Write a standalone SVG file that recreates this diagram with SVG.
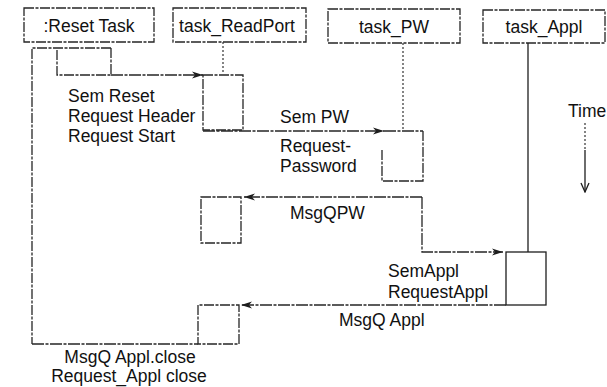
<svg xmlns="http://www.w3.org/2000/svg" width="607" height="387" viewBox="0 0 607 387">
<style>
text{font-family:"Liberation Sans",Arial,sans-serif;font-size:17.5px;fill:#111}
.c{text-anchor:middle}
.hd{fill:#fff;stroke:#262626;stroke-width:1.3;stroke-dasharray:10 1.5 3 1.5}
.box{fill:none;stroke:#262626;stroke-width:1.3;stroke-dasharray:10 1.5 3 1.5}
.sol{fill:none;stroke:#1e1e1e;stroke-width:1.3}
.dot{fill:none;stroke:#333;stroke-width:1.2;stroke-dasharray:2 2}
.ln{fill:none;stroke:#262626;stroke-width:1.3;stroke-dasharray:12 1.5 3 1.5}
</style>
<defs>
<marker id="ah" markerWidth="12" markerHeight="8" refX="11" refY="4" orient="auto" markerUnits="userSpaceOnUse">
<path d="M0,0.5 L11,4 L0,7.5 L3,4 Z" fill="#1e1e1e"/>
</marker>
<marker id="tv" markerWidth="10" markerHeight="12" refX="5" refY="11" orient="0" markerUnits="userSpaceOnUse">
<path d="M1,2 L5,11 L9,2" fill="none" stroke="#1e1e1e" stroke-width="1.3"/>
</marker>
</defs>

<g id="reset-task">
<rect class="hd" x="24" y="8" width="130" height="34"/>
<text class="c" x="89" y="32">:Reset Task</text>
<path class="box" d="M111,48 H32 V344"/>
<path class="box" d="M57,50 V75 H111 V48"/>
</g>

<g id="task-readport">
<rect class="hd" x="173" y="8" width="133" height="34"/>
<text class="c" x="237" y="32">task_ReadPort</text>
<line class="dot" x1="223" y1="42" x2="223" y2="72"/>
<rect class="box" x="203" y="75" width="40" height="55"/>
<rect class="box" x="201" y="197" width="40" height="46"/>
<path class="box" d="M198,305 V344 H239 V305 H198"/>
</g>

<g id="task-pw">
<rect class="hd" x="328" y="9" width="132" height="34"/>
<text class="c" x="394" y="33">task_PW</text>
<line class="dot" x1="403" y1="43" x2="403" y2="131"/>
<path class="box" d="M382,150 V181 H423 V131"/>
</g>

<g id="task-appl">
<rect class="hd" x="483" y="10" width="122" height="33"/>
<text class="c" x="544" y="33">task_Appl</text>
<line class="sol" x1="528" y1="43" x2="528" y2="252"/>
<rect class="sol" x="506" y="252" width="40" height="53"/>
</g>

<g id="time">
<text x="568" y="117">Time</text>
<line class="dot" x1="585" y1="123" x2="585" y2="150"/>
<line class="sol" x1="585" y1="150" x2="585" y2="192" marker-end="url(#tv)"/>
</g>

<g id="connectors">
<line class="ln" x1="111" y1="75" x2="203" y2="75" marker-end="url(#ah)"/>
<line class="ln" x1="203" y1="131" x2="384" y2="131" marker-end="url(#ah)"/>
<line class="ln" x1="384" y1="131" x2="423" y2="131"/>
<path class="ln" d="M422,197 H244" marker-end="url(#ah)"/>
<path class="ln" d="M422,197 V252 H503" marker-end="url(#ah)"/>
<line class="ln" x1="506" y1="305" x2="241" y2="305" marker-end="url(#ah)"/>
<line class="ln" x1="32" y1="344" x2="198" y2="344"/>
</g>

<g id="labels">
<text x="68" y="102">Sem Reset</text>
<text x="68" y="122">Request Header</text>
<text x="68" y="142">Request Start</text>
<text x="280" y="123">Sem PW</text>
<text x="280" y="152">Request-</text>
<text x="280" y="172">Password</text>
<text x="290" y="219">MsgQPW</text>
<text x="388" y="277">SemAppl</text>
<text x="388" y="298">RequestAppl</text>
<text x="339" y="326">MsgQ Appl</text>
<text class="c" x="130" y="363">MsgQ Appl.close</text>
<text class="c" x="129" y="382">Request_Appl close</text>
</g>
</svg>
